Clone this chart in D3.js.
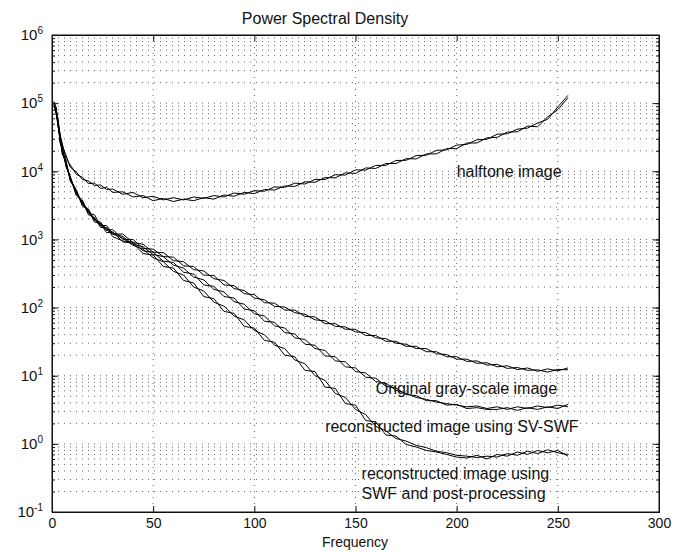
<!DOCTYPE html>
<html>
<head>
<meta charset="utf-8">
<script src="https://cdn.jsdelivr.net/npm/d3@7"></script>
<style>
  body { margin: 0; background: #fff; }
  svg { font-family: "Liberation Sans", Arial, Helvetica, sans-serif; }
</style>
</head>
<body>
<svg id="chart" width="682" height="552"></svg>
<script>
// frequencies shared by every trace
const freqs = [1, 2, 3, 4, 5, 7, 9, 12, 15, 18, 21, 24, 27, 30,
  35, 40, 45, 50, 55, 60, 65, 70, 75, 80, 85, 90, 95, 100, 105, 110, 115, 120, 125,
  130, 135, 140, 145, 150, 155, 160, 165, 170, 175, 180, 185, 190, 195, 200, 205,
  210, 215, 220, 225, 230, 235, 240, 245, 250, 255];

// halftone image (two traces)
const halftoneA = [1.05e5, 8.8e4, 5.2e4, 3.6e4, 2.4e4, 1.7e4, 1.15e4, 9.8e3, 7.6e3, 7.2e3, 6.2e3, 6.3e3, 5.4e3, 5.5e3,
  4.6e3, 4.9e3, 4.1e3, 4.3e3, 3.8e3, 4.1e3, 3.8e3, 4.2e3, 4.0e3, 4.4e3, 4.2e3, 4.8e3, 4.6e3, 5.2e3, 5.1e3, 5.9e3,
  5.8e3, 6.7e3, 6.5e3, 7.6e3, 7.6e3, 8.9e3, 8.8e3, 1.05e4, 1.04e4, 1.22e4, 1.22e4, 1.44e4, 1.45e4, 1.7e4, 1.72e4,
  2.03e4, 2.06e4, 2.42e4, 2.48e4, 2.9e4, 2.95e4, 3.5e4, 3.55e4, 4.15e4, 4.3e4, 5.1e4, 5.8e4, 8.8e4, 1.3e5];
const halftoneB = [9.5e4, 8.2e4, 5.8e4, 3.3e4, 2.6e4, 1.5e4, 1.25e4, 9.0e3, 8.2e3, 6.6e3, 6.7e3, 5.6e3, 5.8e3, 4.9e3,
  5.0e3, 4.2e3, 4.4e3, 3.7e3, 4.0e3, 3.6e3, 3.9e3, 3.7e3, 4.1e3, 3.9e3, 4.5e3, 4.3e3, 4.9e3, 4.7e3, 5.4e3, 5.3e3,
  6.1e3, 6.0e3, 7.0e3, 6.9e3, 8.1e3, 8.0e3, 9.5e3, 9.3e3, 1.12e4, 1.1e4, 1.3e4, 1.3e4, 1.53e4, 1.52e4, 1.8e4,
  1.8e4, 2.15e4, 2.15e4, 2.6e4, 2.6e4, 3.1e4, 3.15e4, 3.75e4, 3.8e4, 4.6e4, 4.5e4, 6.3e4, 8.0e4, 1.2e5];

// original gray-scale image
const grayA = [1.05e5, 7.5e4, 5.3e4, 2.8e4, 2.3e4, 1.2e4, 8.5e3, 4.6e3, 3.8e3, 2.4e3, 2.3e3, 1.6e3, 1.6e3, 1.2e3,
  1.2e3, 900, 850, 650, 640, 490, 470, 360, 345, 265, 250, 190, 178, 138, 130, 104, 102, 84, 80, 66, 64, 53, 52,
  44, 43, 36, 35, 30, 29, 25, 25, 21, 20.5, 17.5, 17.5, 15.2, 15.5, 13.5, 14, 12.3, 13, 11.6, 12.6, 11.8, 13];
const grayB = [9.0e4, 8.5e4, 4.6e4, 3.2e4, 2.0e4, 1.4e4, 7.5e3, 5.4e3, 3.2e3, 2.8e3, 1.9e3, 1.8e3, 1.35e3, 1.4e3,
  1.0e3, 1.0e3, 740, 720, 560, 550, 410, 400, 300, 295, 215, 210, 160, 155, 118, 116, 92, 92, 74, 73, 58, 58, 48,
  48, 39, 39, 32, 32, 27, 27, 22.5, 22.5, 19, 19, 16.2, 16.5, 14.3, 14.7, 12.8, 13.2, 12, 12.2, 11.3, 12.4, 12.2];

// reconstructed using SV-SWF
const svA = [1.0e5, 8e4, 4.8e4, 3.0e4, 2.1e4, 1.3e4, 7.8e3, 5.0e3, 3.4e3, 2.6e3, 2.0e3, 1.7e3, 1.45e3, 1.25e3,
  1.1e3, 850, 780, 600, 560, 420, 380, 280, 255, 185, 170, 122, 112, 81, 75, 54, 50, 36, 34, 25, 23.5, 16.5, 16,
  11.5, 11, 8.2, 7.8, 6.1, 5.5, 4.8, 4.5, 4.1, 3.9, 3.7, 3.5, 3.6, 3.3, 3.5, 3.2, 3.5, 3.3, 3.6, 3.4, 3.7, 3.5];
const svB = [9.5e4, 7e4, 5.2e4, 2.6e4, 2.2e4, 1.15e4, 8.2e3, 4.4e3, 3.6e3, 2.3e3, 2.1e3, 1.5e3, 1.5e3, 1.1e3,
  950, 920, 680, 650, 480, 460, 330, 310, 215, 205, 145, 138, 95, 90, 63, 61, 43, 41, 29, 28, 19.5, 19, 13.5, 13,
  9.5, 9.2, 7, 6.6, 5.3, 5.1, 4.3, 4.3, 3.7, 3.8, 3.3, 3.4, 3.2, 3.2, 3.4, 3.1, 3.4, 3.2, 3.5, 3.3, 3.8];

// reconstructed using SWF and post-processing
const swfA = [9.8e4, 8.2e4, 5.0e4, 2.9e4, 2.0e4, 1.25e4, 8e3, 4.8e3, 3.5e3, 2.5e3, 2.0e3, 1.6e3, 1.4e3, 1.2e3,
  1.05e3, 820, 720, 540, 470, 340, 300, 200, 175, 120, 105, 75, 66, 46, 40, 28, 25, 17, 15, 10, 8.5, 5.5, 4.8,
  3.2, 2.7, 1.8, 1.55, 1.2, 1.1, 0.95, 0.88, 0.78, 0.74, 0.68, 0.66, 0.63, 0.66, 0.64, 0.72, 0.68, 0.78, 0.72,
  0.82, 0.74, 0.7];
const swfB = [9.2e4, 7.2e4, 4.6e4, 3.1e4, 1.8e4, 1.35e4, 7.2e3, 5.2e3, 3.1e3, 2.7e3, 1.8e3, 1.7e3, 1.25e3, 1.3e3,
  920, 880, 620, 590, 400, 380, 250, 230, 145, 135, 88, 82, 53, 50, 33, 31, 20, 19, 12, 11.5, 6.8, 6.5, 3.9, 3.7,
  2.2, 2.1, 1.35, 1.3, 0.98, 0.9, 0.8, 0.76, 0.7, 0.64, 0.62, 0.68, 0.6, 0.7, 0.66, 0.76, 0.7, 0.8, 0.74, 0.8, 0.66];

const xTicks = [0, 50, 100, 150, 200, 250, 300];
const yExponents = [-1, 0, 1, 2, 3, 4, 5, 6];

// text annotations: [frequency, psd, text]
const notes = [
  [200, 1.0e4, 'halftone image'],
  [160, 6.6, 'Original gray-scale image'],
  [135, 1.8, 'reconstructed image using SV-SWF'],
  [153, 0.37, 'reconstructed image using'],
  [153, 0.19, 'SWF and post-processing']
];

const svgArea = {
  margin: { left: 52, top: 35, right: 23, bottom: 40 }
};
svgArea.width = 682 - svgArea.margin.left - svgArea.margin.right;
svgArea.height = 552 - svgArea.margin.top - svgArea.margin.bottom;

const svg = d3.select('#chart');
const g = svg.append('g')
  .attr('transform', `translate(${svgArea.margin.left},${svgArea.margin.top})`);

const x = d3.scaleLinear()
  .domain([0, 300])
  .range([0, svgArea.width]);
const y = d3.scaleLog()
  .domain([1e-1, 1e6])
  .range([svgArea.height, 0]);

// every log tick (1..9 per decade)
const logTicks = [];
for (let e = -1; e < 6; e++) {
  for (let m = 1; m < 10; m++) {
    logTicks.push(m * Math.pow(10, e));
  }
}

// dotted grid
g.append('g')
  .selectAll('line')
  .data(logTicks.filter(d => d > 1e-1))
  .join('line')
  .attr('x1', 0)
  .attr('x2', svgArea.width)
  .attr('y1', d => y(d))
  .attr('y2', d => y(d))
  .attr('stroke', '#666')
  .attr('stroke-width', 1)
  .attr('stroke-dasharray', '1,5');
g.append('g')
  .selectAll('line')
  .data(xTicks.slice(1, -1))
  .join('line')
  .attr('x1', d => x(d))
  .attr('x2', d => x(d))
  .attr('y1', 0)
  .attr('y2', svgArea.height)
  .attr('stroke', '#666')
  .attr('stroke-width', 1)
  .attr('stroke-dasharray', '1,5');

// traces
const line = d3.line()
  .x(d => x(d[0]))
  .y(d => y(d[1]));
const traces = [halftoneA, halftoneB, grayA, grayB, svA, svB, swfA, swfB];
for (const vals of traces) {
  g.append('path')
    .datum(freqs.map((f, i) => [f, vals[i]]))
    .attr('fill', 'none')
    .attr('stroke', '#000')
    .attr('stroke-width', 1)
    .attr('stroke-linejoin', 'round')
    .attr('d', line);
}

// axes (ticks inward, box all round)
const xAxisB = d3.axisBottom(x).tickValues(xTicks).tickSize(-6).tickSizeOuter(0).tickPadding(6);
const xAxisT = d3.axisTop(x).tickValues(xTicks).tickSize(-6).tickSizeOuter(0).tickFormat('');
const yMajor = yExponents.map(e => Math.pow(10, e));
const yAxisL = d3.axisLeft(y).tickValues(logTicks).tickSize(-3).tickSizeOuter(0).tickFormat('');
const yAxisR = d3.axisRight(y).tickValues(logTicks).tickSize(-3).tickSizeOuter(0).tickFormat('');

g.append('g').attr('transform', `translate(0,${svgArea.height})`).attr('class', 'xaxis').call(xAxisB);
g.append('g').call(xAxisT);
g.append('g').call(yAxisL);
g.append('g').attr('transform', `translate(${svgArea.width},0)`).call(yAxisR);
g.append('g').call(d3.axisLeft(y).tickValues(yMajor).tickSize(-6).tickSizeOuter(0).tickFormat(''));
g.append('g').attr('transform', `translate(${svgArea.width},0)`)
  .call(d3.axisRight(y).tickValues(yMajor).tickSize(-6).tickSizeOuter(0).tickFormat(''));

g.selectAll('.domain').attr('stroke', '#111');
g.selectAll('.tick line').attr('stroke', '#111');
g.select('.xaxis').selectAll('text')
  .attr('font-size', 14)
  .attr('fill', '#111');

// y labels 10^n
const yLab = g.append('g')
  .selectAll('text')
  .data(yExponents)
  .join('text')
  .attr('x', -9)
  .attr('y', e => y(Math.pow(10, e)))
  .attr('dy', '0.35em')
  .attr('text-anchor', 'end')
  .attr('font-size', 15)
  .attr('fill', '#111');
yLab.append('tspan').text('10');
yLab.append('tspan')
  .attr('dy', '-0.6em')
  .attr('font-size', 10)
  .text(e => e);

g.append('rect')
  .attr('width', svgArea.width)
  .attr('height', svgArea.height)
  .attr('fill', 'none')
  .attr('stroke', '#111');

// annotations
g.append('g')
  .selectAll('text')
  .data(notes)
  .join('text')
  .attr('x', d => x(d[0]))
  .attr('y', d => y(d[1]))
  .attr('dy', '0.35em')
  .attr('font-size', 16)
  .attr('fill', '#111')
  .text(d => d[2]);

// title and x label
svg.append('text')
  .attr('x', 325)
  .attr('y', 18)
  .attr('dy', '0.35em')
  .attr('text-anchor', 'middle')
  .attr('font-size', 16)
  .attr('fill', '#111')
  .text('Power Spectral Density');
svg.append('text')
  .attr('x', 355)
  .attr('y', 542)
  .attr('dy', '0.35em')
  .attr('text-anchor', 'middle')
  .attr('font-size', 14)
  .attr('fill', '#111')
  .text('Frequency');
</script>
</body>
</html>
